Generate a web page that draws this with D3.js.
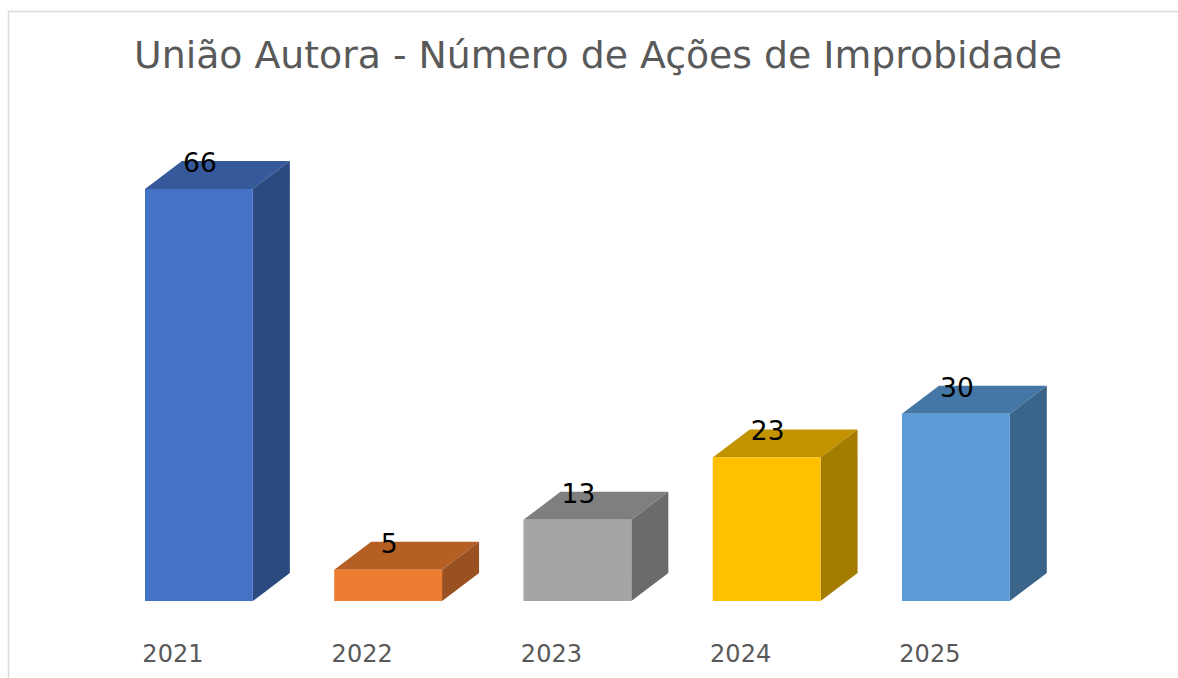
<!DOCTYPE html>
<html>
<head>
<meta charset="utf-8">
<script src="https://cdn.jsdelivr.net/npm/d3@7"></script>
<style>
  body { margin: 0; background: #fff; }
  svg { display: block; font-family: Verdana, "DejaVu Sans", sans-serif; }
</style>
</head>
<body>
<div id="container"></div>
<script>
// Chart data
var years = ["2021", "2022", "2023", "2024", "2025"];
var counts = [66, 5, 13, 23, 30];

// Face colours per bar (front, top, side)
var frontColors = ["#4472C4", "#ED7D31", "#A5A5A5", "#FFC000", "#5B9BD5"];
var topColors = ["#35599A", "#B55F25", "#7F7F7F", "#C39300", "#4577A6"];
var sideColors = ["#2B4A80", "#9A5121", "#6B6B6B", "#A37C00", "#3A6489"];

var width = 1178,
    height = 678;

// Depth of the 3d boxes
var dx = 37,
    dy = 28;

var svg = d3.select("#container")
  .append("svg")
    .attr("width", width)
    .attr("height", height);

// Chart frame
svg.append("rect")
    .attr("x", 8.5)
    .attr("y", 11.5)
    .attr("width", 1180)
    .attr("height", 700)
    .attr("fill", "none")
    .attr("stroke", "#D9D9D9")
    .attr("stroke-width", 1.5);

// Title
svg.append("text")
    .attr("x", 598)
    .attr("y", 68)
    .attr("text-anchor", "middle")
    .attr("fill", "#595959")
    .style("font-size", "37.8px")
    .text("União Autora - Número de Ações de Improbidade");

// Scales
var x = d3.scaleBand()
  .domain(years)
  .range([63.6, 1091.2])
  .paddingInner(0.43)
  .paddingOuter(0.43);

var y = d3.scaleLinear()
  .domain([0, 70])
  .range([601, 164]);

var data = years.map(function(d, i) {
  return { year: d, value: counts[i], i: i };
});

var bars = svg.selectAll(".bar")
  .data(data)
  .enter()
  .append("g")
    .attr("class", "bar");

// Top face
bars.append("path")
    .attr("d", function(d) {
      var x0 = x(d.year), x1 = x0 + x.bandwidth(), yt = y(d.value);
      return "M" + x0 + "," + yt + "L" + (x0 + dx) + "," + (yt - dy) +
             "L" + (x1 + dx) + "," + (yt - dy) + "L" + x1 + "," + yt + "Z";
    })
    .attr("fill", function(d) { return topColors[d.i]; });

// Side face
bars.append("path")
    .attr("d", function(d) {
      var x1 = x(d.year) + x.bandwidth(), yt = y(d.value), yb = y(0);
      return "M" + x1 + "," + yt + "L" + (x1 + dx) + "," + (yt - dy) +
             "L" + (x1 + dx) + "," + (yb - dy) + "L" + x1 + "," + yb + "Z";
    })
    .attr("fill", function(d) { return sideColors[d.i]; });

// Front face
bars.append("rect")
    .attr("x", function(d) { return x(d.year); })
    .attr("y", function(d) { return y(d.value); })
    .attr("width", x.bandwidth())
    .attr("height", function(d) { return y(0) - y(d.value); })
    .attr("fill", function(d) { return frontColors[d.i]; });

// Value labels
bars.append("text")
    .attr("x", function(d) { return x(d.year) + x.bandwidth() / 2 + 1; })
    .attr("y", function(d) { return y(d.value) - 17; })
    .attr("text-anchor", "middle")
    .attr("fill", "#000")
    .style("font-size", "26.5px")
    .text(function(d) { return d.value; });

// Category labels
svg.selectAll(".cat")
  .data(years)
  .enter()
  .append("text")
    .attr("class", "cat")
    .attr("x", function(d) { return x(d) + x.bandwidth() / 2 - 26; })
    .attr("y", 662)
    .attr("text-anchor", "middle")
    .attr("fill", "#595959")
    .style("font-size", "24px")
    .text(function(d) { return d; });
</script>
</body>
</html>
